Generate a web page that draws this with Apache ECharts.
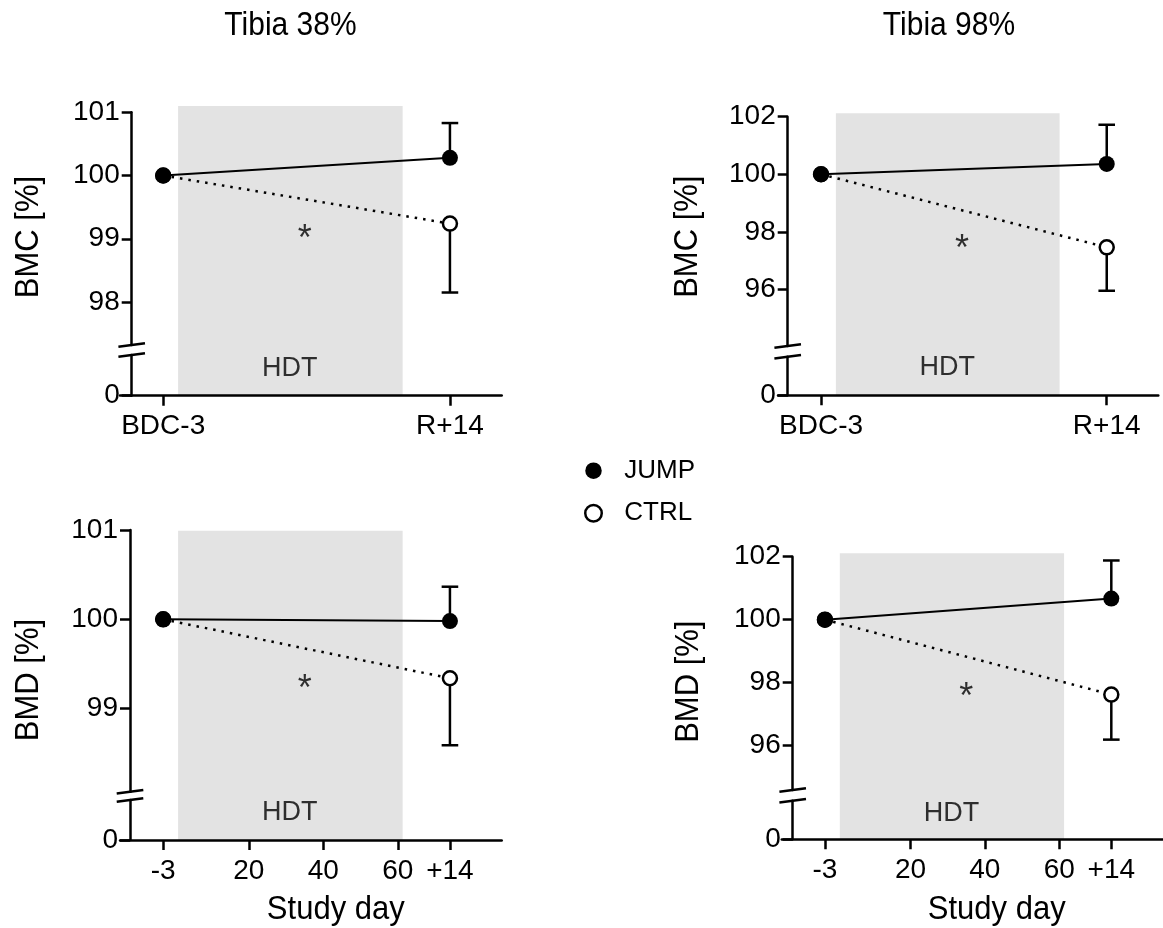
<!DOCTYPE html>
<html><head><meta charset="utf-8">
<script src="https://cdn.jsdelivr.net/npm/echarts@6/dist/echarts.min.js"></script>
<style>html,body{margin:0;padding:0;background:#fff}#chart{width:1163px;height:928px}</style>
</head><body><div id="chart"></div>
<script>
// ---------------- data ----------------
const panelTitles = ['Tibia 38%', 'Tibia 98%'];
const yAxisNames = ['BMC [%]', 'BMC [%]', 'BMD [%]', 'BMD [%]'];
const xAxisName = 'Study day';
const seriesNames = ['JUMP', 'CTRL'];
const studyDays = [-3, 74];
const topTickDays = [-3, 74];
const topTickLabels = ['BDC-3', 'R+14'];
const bottomTickDays = [-3, 20, 40, 60, 74];
const bottomTickLabels = ['-3', '20', '40', '60', '+14'];
const hdtPeriod = [1, 61.3];
const hdtText = 'HDT';
const hdtLabelDay = 31;
const jumpValues = [[100, 100.28], [100, 100.36], [100, 99.98], [100, 100.67]];
const jumpErrorTop = [100.83, 101.72, 100.365, 101.88];
const ctrlValues = [[100, 99.24], [100, 97.46], [100, 99.34], [100, 97.62]];
const ctrlErrorBottom = [98.15, 95.95, 98.59, 96.19];
const yTickValues = [[98, 99, 100, 101], [96, 98, 100, 102], [99, 100, 101], [96, 98, 100, 102]];
const zeroTick = [0];
const starText = '*';
const starDay = 35;
const starValues = [98.98, 97.36, 99.21, 97.50];

// ---------------- layout ----------------
const FONT = "'Liberation Sans', Arial, Helvetica, sans-serif";
const X_RANGE = [-14.6, 87.9];
const TEXT_STRETCH = 1.1;
const layouts = [
  {axisX:131.7, left:120,   width:381.7, top:112.3, breakTop:345,   breakBottom:355,   zeroY:395.7, shadeTop:106,   yMin:97.32, yMax:101, hdtY:0.66, nameX:28.5, nameY:237,   titleX:290.5},
  {axisX:787.7, left:778,   width:380.3, top:116.7, breakTop:346,   breakBottom:356.7, zeroY:395.3, shadeTop:113.3, yMin:94.03, yMax:102, hdtY:0.72, nameX:687.5, nameY:236.7, titleX:949},
  {axisX:130,   left:120,   width:381.7, top:530,   breakTop:791.7, breakBottom:800,   zeroY:840,   shadeTop:530.7, yMin:98.07, yMax:101, hdtY:0.68, nameX:29,   nameY:680,   studyX:335.8},
  {axisX:792.7, left:781.8, width:381.6, top:556.7, breakTop:790,   breakBottom:800.7, zeroY:839.3, shadeTop:553.3, yMin:94.59, yMax:102, hdtY:0.68, nameX:689,  nameY:681.7, studyX:996.7}
];

const grid = [], xAxis = [], yAxis = [], series = [], graphic = [];
const lineStyleAxis = {color:'#000', width:2.5};
const tickLabelStyle = {fontSize:28, color:'#000', fontFamily:FONT};

layouts.forEach((L, i) => {
  const isBottom = i >= 2;
  const g = grid.length;
  grid.push({left:L.left, top:L.top, width:L.width, height:L.breakTop - L.top});
  grid.push({left:L.left, top:L.breakBottom, width:L.width, height:L.zeroY - L.breakBottom});
  grid.push({left:L.left, top:L.shadeTop, width:L.width, height:L.zeroY - L.shadeTop});
  const tickDays = isBottom ? bottomTickDays : topTickDays;
  const tickLabels = isBottom ? bottomTickLabels : topTickLabels;

  xAxis.push({gridIndex:g, type:'value', min:X_RANGE[0], max:X_RANGE[1], show:false});
  xAxis.push({gridIndex:g+1, type:'value', min:X_RANGE[0], max:X_RANGE[1], z:5,
    axisLine:{show:true, onZero:false, lineStyle:lineStyleAxis},
    axisTick:{show:true, customValues:tickDays, length:10, lineStyle:lineStyleAxis},
    axisLabel:Object.assign({show:true, customValues:tickDays, margin:17,
      formatter:(v)=>{const k=tickDays.indexOf(v);return k>=0?tickLabels[k]:'';}}, tickLabelStyle),
    splitLine:{show:false}});
  xAxis.push({gridIndex:g+2, type:'value', min:X_RANGE[0], max:X_RANGE[1], show:false});

  const off = L.left - L.axisX;
  yAxis.push({gridIndex:g, type:'value', min:L.yMin, max:L.yMax, offset:off, z:5,
    axisLine:{show:true, onZero:false, lineStyle:lineStyleAxis},
    axisTick:{show:true, customValues:yTickValues[i], length:10, lineStyle:lineStyleAxis},
    axisLabel:Object.assign({show:true, customValues:yTickValues[i], margin:12}, tickLabelStyle),
    splitLine:{show:false}});
  yAxis.push({gridIndex:g+1, type:'value', min:0, max:1, offset:off, z:5,
    axisLine:{show:true, onZero:false, lineStyle:lineStyleAxis},
    axisTick:{show:true, customValues:zeroTick, length:10, lineStyle:lineStyleAxis},
    axisLabel:Object.assign({show:true, customValues:zeroTick, margin:12}, tickLabelStyle),
    splitLine:{show:false}});
  yAxis.push({gridIndex:g+2, type:'value', min:0, max:1, show:false});

  // HDT shaded period
  series.push({type:'custom', xAxisIndex:g+2, yAxisIndex:g+2, z:1, silent:true,
    data:[hdtPeriod], encode:{x:[0,1]},
    renderItem:(params, api) => {
      const p0 = api.coord([api.value(0), 1]);
      const p1 = api.coord([api.value(1), 0]);
      return {type:'rect', shape:{x:p0[0], y:p0[1], width:p1[0]-p0[0], height:p1[1]-p0[1]}, style:{fill:'#e3e3e3'}};
    }});
  // HDT label
  series.push({type:'scatter', xAxisIndex:g+1, yAxisIndex:g+1, z:4, silent:true,
    data:[[hdtLabelDay, L.hdtY]], symbolSize:1, itemStyle:{color:'rgba(0,0,0,0)'},
    label:{show:true, position:'inside', formatter:hdtText, fontSize:27, color:'#000', fontFamily:FONT}});
  // error bars
  series.push({type:'custom', xAxisIndex:g, yAxisIndex:g, z:2, silent:true, clip:false,
    data:[[studyDays[1], jumpValues[i][1], jumpErrorTop[i]], [studyDays[1], ctrlValues[i][1], ctrlErrorBottom[i]]],
    encode:{x:0, y:[1,2]},
    renderItem:(params, api) => {
      const a = api.coord([api.value(0), api.value(1)]);
      const b = api.coord([api.value(0), api.value(2)]);
      const st = {stroke:'#000', lineWidth:2.5};
      return {type:'group', children:[
        {type:'line', shape:{x1:a[0], y1:a[1], x2:b[0], y2:b[1]}, style:st},
        {type:'line', shape:{x1:b[0]-8.3, y1:b[1], x2:b[0]+8.3, y2:b[1]}, style:st}
      ]};
    }});
  // CTRL
  series.push({type:'line', name:seriesNames[1], xAxisIndex:g, yAxisIndex:g, z:3, silent:true, clip:false,
    data:studyDays.map((d,k)=>[d, ctrlValues[i][k]]),
    symbol:'circle', symbolSize:14,
    itemStyle:{color:'#fff', borderColor:'#000', borderWidth:2.5},
    lineStyle:{color:'#000', width:2.5, type:[2.5, 6]}});
  // JUMP
  series.push({type:'line', name:seriesNames[0], xAxisIndex:g, yAxisIndex:g, z:3, silent:true, clip:false,
    data:studyDays.map((d,k)=>[d, jumpValues[i][k]]),
    symbol:'circle', symbolSize:16,
    itemStyle:{color:'#000'},
    lineStyle:{color:'#000', width:2}});
  // significance star
  series.push({type:'scatter', xAxisIndex:g, yAxisIndex:g, z:4, silent:true,
    data:[[starDay, starValues[i]]], symbolSize:1, itemStyle:{color:'rgba(0,0,0,0)'},
    label:{show:true, position:'inside', formatter:starText, fontSize:36, color:'#000', fontFamily:FONT}});

  // texts
  graphic.push({type:'text', x:L.nameX, y:L.nameY, rotation:Math.PI/2, scaleX:1, scaleY:TEXT_STRETCH, silent:true,
    style:{text:yAxisNames[i], fontSize:31, fontFamily:FONT, fill:'#000', align:'center', verticalAlign:'middle'}});
  if (!isBottom) {
    graphic.push({type:'text', x:L.titleX, y:26, scaleY:TEXT_STRETCH, silent:true,
      style:{text:panelTitles[i], fontSize:30, fontFamily:FONT, fill:'#000', align:'center', verticalAlign:'middle'}});
  } else {
    graphic.push({type:'text', x:L.studyX, y:910, scaleY:TEXT_STRETCH, silent:true,
      style:{text:xAxisName, fontSize:31, fontFamily:FONT, fill:'#000', align:'center', verticalAlign:'middle'}});
  }
  // axis break marks
  [L.breakTop, L.breakBottom].forEach(yb => {
    graphic.push({type:'line', silent:true, z:10,
      shape:{x1:L.axisX-13.3, y1:yb+1.7, x2:L.axisX+13.3, y2:yb-1.7},
      style:{stroke:'#000', lineWidth:2.5}});
  });
});

const chart = echarts.init(document.getElementById('chart'), null, {renderer:'canvas'});
chart.setOption({
  animation:false,
  backgroundColor:'#fff',
  grid, xAxis, yAxis, series, graphic,
  legend:{orient:'vertical', left:584, top:457.7, padding:0, itemWidth:16.5, itemHeight:16.5, itemGap:16.6,
    icon:'circle', selectedMode:false,
    textStyle:{fontSize:26, color:'#000', fontFamily:FONT, padding:[0,0,0,17.5]},
    data:[{name:'JUMP', itemStyle:{color:'#000', borderWidth:0}},
          {name:'CTRL', itemStyle:{color:'#fff', borderColor:'#000', borderWidth:2.5}}]}
});
</script></body></html>
